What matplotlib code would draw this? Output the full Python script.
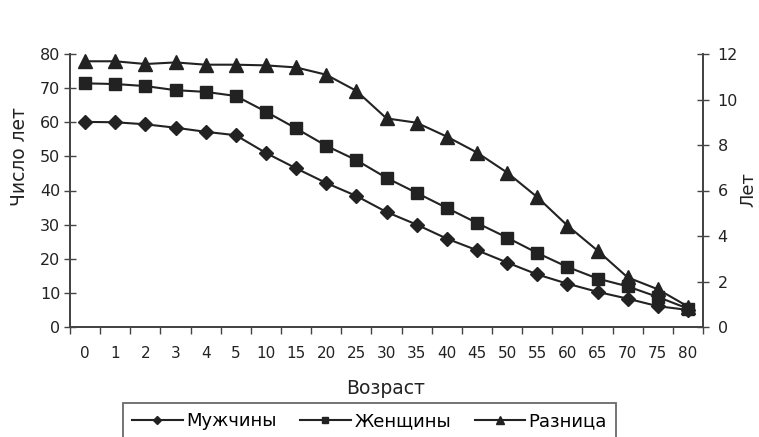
import matplotlib
matplotlib.use("Agg")
import matplotlib.pyplot as plt

plt.rcParams["font.family"] = ["DejaVu Sans"]

# возрастные группы (категории оси X)
ages = ["0", "1", "2", "3", "4", "5", "10", "15", "20", "25", "30",
        "35", "40", "45", "50", "55", "60", "65", "70", "75", "80"]

# ожидаемая продолжительность предстоящей жизни, лет
men = [60.1, 60.0, 59.4, 58.4, 57.2, 56.2, 51.0, 46.5, 42.2, 38.4, 33.7,
       30.0, 25.9, 22.5, 18.9, 15.4, 12.7, 10.3, 8.3, 6.1, 5.0]
women = [71.4, 71.2, 70.6, 69.4, 68.9, 67.7, 63.1, 58.2, 53.1, 48.9, 43.7,
         39.3, 34.9, 30.5, 26.2, 21.7, 17.6, 14.2, 11.9, 8.8, 5.4]
# разница (правая ось)
diff = [11.68, 11.68, 11.56, 11.63, 11.53, 11.53, 11.5, 11.41, 11.09, 10.38, 9.17,
        8.98, 8.37, 7.67, 6.79, 5.71, 4.46, 3.36, 2.18, 1.66, 0.9]

left_ticks = [0, 10, 20, 30, 40, 50, 60, 70, 80]
right_ticks = [0, 2, 4, 6, 8, 10, 12]

INK = "#222222"
AX = "#444444"

fig = plt.figure(figsize=(7.59, 4.37), dpi=100)
ax = fig.add_axes([70 / 759, 1 - 327 / 437, 633 / 759, 273 / 437])
ax2 = ax.twinx()

x = list(range(len(ages)))
l1, = ax.plot(x, men, color=INK, lw=1.5, marker="D", ms=7.5, label="Мужчины")
l2, = ax.plot(x, women, color=INK, lw=1.5, marker="s", ms=8.5, label="Женщины")
l3, = ax2.plot(x, diff, color=INK, lw=1.5, marker="^", ms=9.5, label="Разница")

ax.set_xlim(-0.5, len(ages) - 0.5)
ax.set_ylim(0, 80)
ax2.set_ylim(0, 12)

# деления оси X между категориями, подписи по центру
ax.set_xticks([i - 0.5 for i in range(len(ages) + 1)])
ax.set_xticklabels([])
ax.set_xticks(x, minor=True)
ax.set_xticklabels(ages, minor=True, fontsize=11)
ax.tick_params(axis="x", which="major", direction="out", length=5, width=1, color=AX)
ax.tick_params(axis="x", which="minor", length=0, pad=14, labelcolor=INK)

ax.set_yticks(left_ticks)
ax.tick_params(axis="y", direction="inout", length=8, width=1, color=AX,
               labelsize=11.5, pad=3, labelcolor=INK)
ax2.set_yticks(right_ticks)
ax2.tick_params(axis="y", direction="inout", length=9, width=1, color=AX,
                labelsize=11.5, pad=6, labelcolor=INK)

for a in (ax, ax2):
    a.spines["top"].set_visible(False)
    for s in ("left", "right", "bottom"):
        a.spines[s].set_color(AX)
        a.spines[s].set_linewidth(1.3)

fig.text(20 / 759, 1 - 157 / 437, "Число лет", rotation=90, ha="center", va="center",
         fontsize=13.5, color=INK)
fig.text(748 / 759, 1 - 190 / 437, "Лет", rotation=90, ha="center", va="center",
         fontsize=13, color=INK)
fig.text(386 / 759, 1 - 388 / 437, "Возраст", ha="center", va="center",
         fontsize=13.5, color=INK)

leg = fig.legend(handles=[l1, l2, l3], loc="upper left",
                 bbox_to_anchor=(123 / 759, 1 - 403 / 437), ncol=3,
                 fontsize=13, markerscale=0.55, handlelength=2.8, handletextpad=0.2,
                 columnspacing=1.3, borderpad=0.5, frameon=True, fancybox=False,
                 borderaxespad=0)
leg.get_frame().set_edgecolor(AX)
leg.get_frame().set_linewidth(1.3)

fig.savefig("out.png", dpi=100)
